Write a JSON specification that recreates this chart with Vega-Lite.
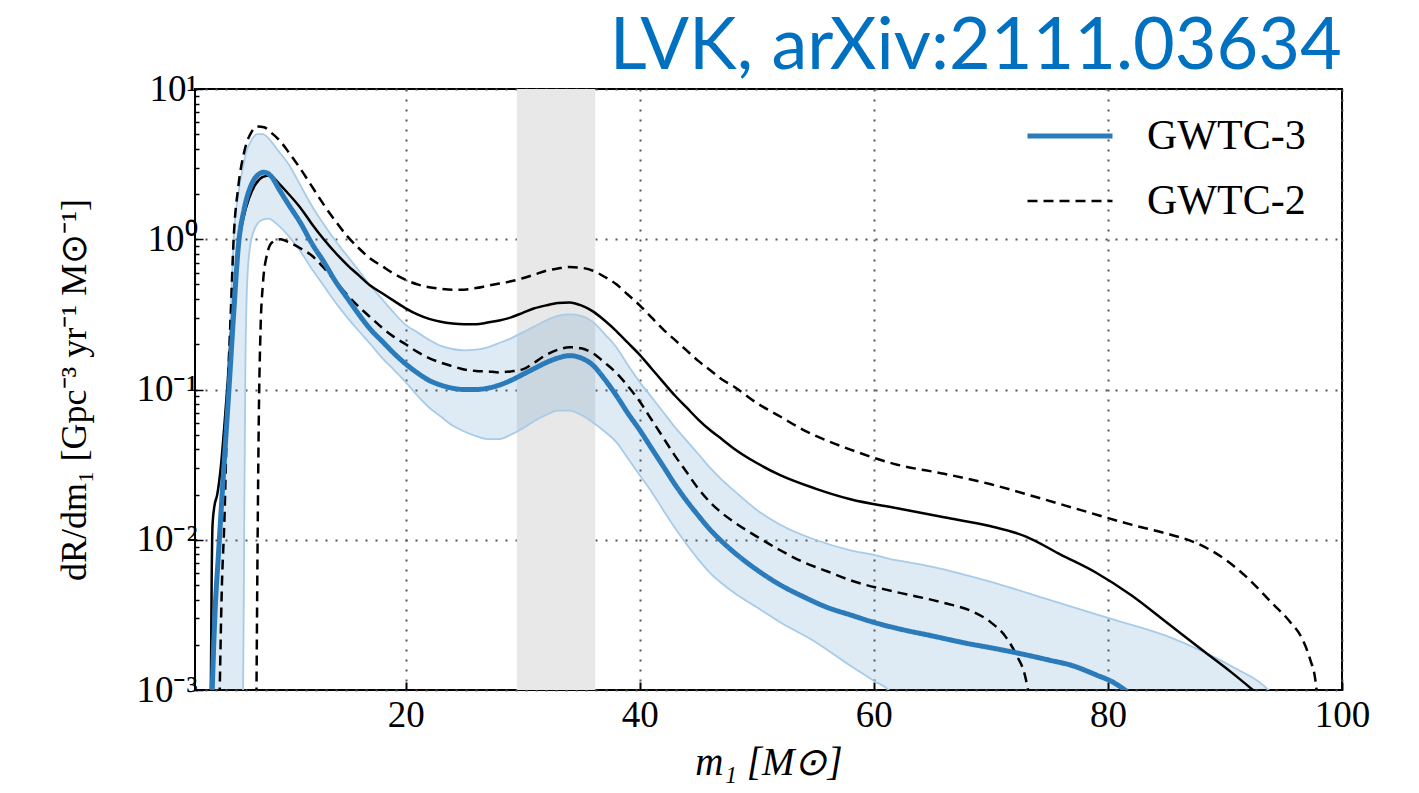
{
  "$schema": "https://vega.github.io/schema/vega-lite/v6.json",
  "width": 1147,
  "height": 601,
  "autosize": {"type": "none"},
  "padding": {"left": 195, "top": 89, "right": 77, "bottom": 103},
  "background": "white",
  "title": {
    "text": "LVK, arXiv:2111.03634",
    "anchor": "end",
    "font": "Lato",
    "fontSize": 72,
    "fontWeight": "normal",
    "color": "#0070C0",
    "baseline": "bottom",
    "offset": -86,
    "dx": -28
  },
  "config": {
    "view": {"stroke": "black", "strokeWidth": 2},
    "legend": {
      "orient": "none",
      "legendX": 830,
      "legendY": 2,
      "padding": 0,
      "labelFont": "Liberation Serif",
      "labelFontSize": 42,
      "labelColor": "black",
      "labelOffset": 32,
      "symbolType": "stroke",
      "symbolSize": 7225,
      "rowPadding": -7,
      "title": null
    }
  },
  "datasets": {
    "span": [{"start": 29.5, "end": 36.2}],
    "band3": [
      {"m": 3.4, "lo": 0.0001, "hi": 0.000794},
      {"m": 3.55, "lo": 0.0001, "hi": 0.001},
      {"m": 3.8, "lo": 0.0001, "hi": 0.00398},
      {"m": 4.0, "lo": 0.0001, "hi": 0.01},
      {"m": 4.3, "lo": 0.0001, "hi": 0.0316},
      {"m": 4.7, "lo": 0.0001, "hi": 0.1},
      {"m": 5.0, "lo": 0.0001, "hi": 0.251},
      {"m": 5.3, "lo": 0.0001, "hi": 1.0},
      {"m": 5.7, "lo": 0.0001, "hi": 2.0},
      {"m": 6.1, "lo": 0.000794, "hi": 3.02},
      {"m": 6.2, "lo": 0.01, "hi": 3.31},
      {"m": 6.3, "lo": 0.126, "hi": 3.63},
      {"m": 6.45, "lo": 0.501, "hi": 3.98},
      {"m": 6.7, "lo": 0.891, "hi": 4.37},
      {"m": 7.0, "lo": 1.12, "hi": 4.79},
      {"m": 7.3, "lo": 1.26, "hi": 5.01},
      {"m": 7.8, "lo": 1.35, "hi": 5.01},
      {"m": 8.3, "lo": 1.37, "hi": 4.68},
      {"m": 9, "lo": 1.26, "hi": 3.98},
      {"m": 10, "lo": 1.05, "hi": 3.16},
      {"m": 11, "lo": 0.832, "hi": 2.29},
      {"m": 12, "lo": 0.631, "hi": 1.66},
      {"m": 13, "lo": 0.49, "hi": 1.26},
      {"m": 14, "lo": 0.38, "hi": 0.977},
      {"m": 15, "lo": 0.302, "hi": 0.776},
      {"m": 16, "lo": 0.245, "hi": 0.617},
      {"m": 17, "lo": 0.2, "hi": 0.49},
      {"m": 18, "lo": 0.162, "hi": 0.398},
      {"m": 19, "lo": 0.135, "hi": 0.324},
      {"m": 20, "lo": 0.112, "hi": 0.269},
      {"m": 21, "lo": 0.0912, "hi": 0.24},
      {"m": 22, "lo": 0.0759, "hi": 0.214},
      {"m": 23, "lo": 0.0661, "hi": 0.195},
      {"m": 24, "lo": 0.0575, "hi": 0.186},
      {"m": 25, "lo": 0.0525, "hi": 0.182},
      {"m": 26, "lo": 0.049, "hi": 0.184},
      {"m": 27, "lo": 0.0468, "hi": 0.191},
      {"m": 28, "lo": 0.0468, "hi": 0.204},
      {"m": 29, "lo": 0.0501, "hi": 0.219},
      {"m": 30, "lo": 0.055, "hi": 0.24},
      {"m": 31, "lo": 0.0617, "hi": 0.263},
      {"m": 32, "lo": 0.0676, "hi": 0.288},
      {"m": 33, "lo": 0.0724, "hi": 0.309},
      {"m": 34, "lo": 0.0724, "hi": 0.316},
      {"m": 35, "lo": 0.0676, "hi": 0.309},
      {"m": 36, "lo": 0.0603, "hi": 0.282},
      {"m": 37, "lo": 0.0525, "hi": 0.234},
      {"m": 38, "lo": 0.0447, "hi": 0.191},
      {"m": 39, "lo": 0.0347, "hi": 0.145},
      {"m": 40, "lo": 0.0269, "hi": 0.112},
      {"m": 41, "lo": 0.0209, "hi": 0.0891},
      {"m": 42, "lo": 0.0158, "hi": 0.0708},
      {"m": 43, "lo": 0.012, "hi": 0.0562},
      {"m": 44, "lo": 0.00933, "hi": 0.0457},
      {"m": 45, "lo": 0.00741, "hi": 0.0372},
      {"m": 46, "lo": 0.00603, "hi": 0.0302},
      {"m": 47, "lo": 0.00513, "hi": 0.0251},
      {"m": 48, "lo": 0.00447, "hi": 0.0214},
      {"m": 50, "lo": 0.00355, "hi": 0.0158},
      {"m": 52, "lo": 0.00282, "hi": 0.0126},
      {"m": 55, "lo": 0.00209, "hi": 0.01},
      {"m": 58, "lo": 0.00145, "hi": 0.00851},
      {"m": 60, "lo": 0.00115, "hi": 0.00794},
      {"m": 61.5, "lo": 0.000955, "hi": 0.00741},
      {"m": 63, "lo": 0.0001, "hi": 0.00708},
      {"m": 65, "lo": 0.0001, "hi": 0.00661},
      {"m": 70, "lo": 0.0001, "hi": 0.00525},
      {"m": 75, "lo": 0.0001, "hi": 0.00398},
      {"m": 80, "lo": 0.0001, "hi": 0.00302},
      {"m": 85, "lo": 0.0001, "hi": 0.00229},
      {"m": 88, "lo": 0.0001, "hi": 0.00182},
      {"m": 91, "lo": 0.0001, "hi": 0.00138},
      {"m": 93, "lo": 0.0001, "hi": 0.00112},
      {"m": 94, "lo": 0.0001, "hi": 0.000955}
    ],
    "median3": [
      {"m": 3.45, "rate": 0.00089},
      {"m": 3.7, "rate": 0.00316},
      {"m": 4.0, "rate": 0.00794},
      {"m": 4.4, "rate": 0.0251},
      {"m": 4.9, "rate": 0.1},
      {"m": 5.3, "rate": 0.316},
      {"m": 5.7, "rate": 0.891},
      {"m": 6.2, "rate": 1.585},
      {"m": 6.8, "rate": 2.29},
      {"m": 7.4, "rate": 2.69},
      {"m": 7.9, "rate": 2.79},
      {"m": 8.5, "rate": 2.63},
      {"m": 9.2, "rate": 2.14},
      {"m": 10, "rate": 1.7},
      {"m": 11, "rate": 1.29},
      {"m": 12, "rate": 0.933},
      {"m": 13, "rate": 0.708},
      {"m": 14, "rate": 0.525},
      {"m": 15, "rate": 0.407},
      {"m": 16, "rate": 0.316},
      {"m": 17, "rate": 0.251},
      {"m": 18, "rate": 0.209},
      {"m": 19, "rate": 0.174},
      {"m": 20, "rate": 0.148},
      {"m": 21, "rate": 0.129},
      {"m": 22, "rate": 0.115},
      {"m": 23, "rate": 0.107},
      {"m": 24, "rate": 0.102},
      {"m": 25, "rate": 0.1},
      {"m": 26, "rate": 0.1},
      {"m": 27, "rate": 0.102},
      {"m": 28, "rate": 0.107},
      {"m": 29, "rate": 0.115},
      {"m": 30, "rate": 0.126},
      {"m": 31, "rate": 0.138},
      {"m": 32, "rate": 0.151},
      {"m": 33, "rate": 0.162},
      {"m": 34, "rate": 0.168},
      {"m": 35, "rate": 0.162},
      {"m": 36, "rate": 0.145},
      {"m": 37, "rate": 0.117},
      {"m": 38, "rate": 0.0912},
      {"m": 39, "rate": 0.0692},
      {"m": 40, "rate": 0.0537},
      {"m": 41, "rate": 0.0407},
      {"m": 42, "rate": 0.0309},
      {"m": 43, "rate": 0.0234},
      {"m": 44, "rate": 0.0182},
      {"m": 45, "rate": 0.0145},
      {"m": 46, "rate": 0.0117},
      {"m": 47, "rate": 0.00977},
      {"m": 48, "rate": 0.00832},
      {"m": 50, "rate": 0.00631},
      {"m": 52, "rate": 0.00501},
      {"m": 54, "rate": 0.00417},
      {"m": 56, "rate": 0.00355},
      {"m": 58, "rate": 0.00316},
      {"m": 60, "rate": 0.00282},
      {"m": 62, "rate": 0.00257},
      {"m": 65, "rate": 0.00229},
      {"m": 68, "rate": 0.00204},
      {"m": 70, "rate": 0.00191},
      {"m": 72, "rate": 0.00178},
      {"m": 75, "rate": 0.00158},
      {"m": 77, "rate": 0.00145},
      {"m": 79, "rate": 0.00126},
      {"m": 80.5, "rate": 0.00112},
      {"m": 82, "rate": 0.00093}
    ],
    "median2": [
      {"m": 3.35, "rate": 0.00089},
      {"m": 3.42, "rate": 0.00501},
      {"m": 3.5, "rate": 0.0126},
      {"m": 3.65, "rate": 0.0166},
      {"m": 3.9, "rate": 0.02},
      {"m": 4.2, "rate": 0.0302},
      {"m": 4.5, "rate": 0.0562},
      {"m": 4.8, "rate": 0.112},
      {"m": 5.1, "rate": 0.251},
      {"m": 5.4, "rate": 0.501},
      {"m": 5.7, "rate": 0.891},
      {"m": 6.1, "rate": 1.35},
      {"m": 6.6, "rate": 1.86},
      {"m": 7.2, "rate": 2.34},
      {"m": 7.8, "rate": 2.6},
      {"m": 8.4, "rate": 2.66},
      {"m": 9.2, "rate": 2.34},
      {"m": 10, "rate": 2.0},
      {"m": 11, "rate": 1.62},
      {"m": 12, "rate": 1.26},
      {"m": 13, "rate": 1.0},
      {"m": 14, "rate": 0.813},
      {"m": 15, "rate": 0.676},
      {"m": 16, "rate": 0.575},
      {"m": 17, "rate": 0.49},
      {"m": 18, "rate": 0.437},
      {"m": 19, "rate": 0.389},
      {"m": 20, "rate": 0.347},
      {"m": 21, "rate": 0.316},
      {"m": 22, "rate": 0.295},
      {"m": 23, "rate": 0.282},
      {"m": 24, "rate": 0.275},
      {"m": 25, "rate": 0.272},
      {"m": 26, "rate": 0.272},
      {"m": 27, "rate": 0.279},
      {"m": 28, "rate": 0.288},
      {"m": 29, "rate": 0.302},
      {"m": 30, "rate": 0.324},
      {"m": 31, "rate": 0.347},
      {"m": 32, "rate": 0.363},
      {"m": 33, "rate": 0.376},
      {"m": 34, "rate": 0.38},
      {"m": 35, "rate": 0.363},
      {"m": 36, "rate": 0.331},
      {"m": 37, "rate": 0.288},
      {"m": 38, "rate": 0.245},
      {"m": 39, "rate": 0.204},
      {"m": 40, "rate": 0.17},
      {"m": 41, "rate": 0.138},
      {"m": 42, "rate": 0.112},
      {"m": 43, "rate": 0.0912},
      {"m": 44, "rate": 0.0759},
      {"m": 45, "rate": 0.0631},
      {"m": 46, "rate": 0.0537},
      {"m": 47, "rate": 0.0468},
      {"m": 48, "rate": 0.0407},
      {"m": 50, "rate": 0.0324},
      {"m": 52, "rate": 0.0269},
      {"m": 55, "rate": 0.0219},
      {"m": 58, "rate": 0.0186},
      {"m": 62, "rate": 0.0162},
      {"m": 66, "rate": 0.0141},
      {"m": 70, "rate": 0.0123},
      {"m": 73, "rate": 0.0105},
      {"m": 76, "rate": 0.00794},
      {"m": 79, "rate": 0.00603},
      {"m": 82, "rate": 0.00427},
      {"m": 85, "rate": 0.00282},
      {"m": 88, "rate": 0.00186},
      {"m": 90.5, "rate": 0.00132},
      {"m": 92.7, "rate": 0.000955}
    ],
    "upper2": [
      {"m": 4.1, "rate": 0.00089},
      {"m": 4.3, "rate": 0.00501},
      {"m": 4.5, "rate": 0.0126},
      {"m": 4.8, "rate": 0.1},
      {"m": 5.05, "rate": 0.316},
      {"m": 5.3, "rate": 1.0},
      {"m": 5.7, "rate": 2.24},
      {"m": 6.2, "rate": 3.8},
      {"m": 6.8, "rate": 5.13},
      {"m": 7.4, "rate": 5.62},
      {"m": 7.9, "rate": 5.56},
      {"m": 8.5, "rate": 5.13},
      {"m": 9.2, "rate": 4.57},
      {"m": 10, "rate": 3.8},
      {"m": 11, "rate": 2.95},
      {"m": 12, "rate": 2.24},
      {"m": 13, "rate": 1.7},
      {"m": 14, "rate": 1.32},
      {"m": 15, "rate": 1.05},
      {"m": 16, "rate": 0.871},
      {"m": 17, "rate": 0.741},
      {"m": 18, "rate": 0.661},
      {"m": 19, "rate": 0.589},
      {"m": 20, "rate": 0.537},
      {"m": 21, "rate": 0.501},
      {"m": 22, "rate": 0.479},
      {"m": 23, "rate": 0.468},
      {"m": 24, "rate": 0.462},
      {"m": 25, "rate": 0.462},
      {"m": 26, "rate": 0.473},
      {"m": 27, "rate": 0.49},
      {"m": 28, "rate": 0.507},
      {"m": 29, "rate": 0.525},
      {"m": 30, "rate": 0.55},
      {"m": 31, "rate": 0.582},
      {"m": 32, "rate": 0.617},
      {"m": 33, "rate": 0.638},
      {"m": 34, "rate": 0.653},
      {"m": 35, "rate": 0.646},
      {"m": 36, "rate": 0.617},
      {"m": 37, "rate": 0.562},
      {"m": 38, "rate": 0.501},
      {"m": 39, "rate": 0.427},
      {"m": 40, "rate": 0.363},
      {"m": 41, "rate": 0.302},
      {"m": 42, "rate": 0.251},
      {"m": 43, "rate": 0.214},
      {"m": 44, "rate": 0.182},
      {"m": 45, "rate": 0.155},
      {"m": 46, "rate": 0.135},
      {"m": 47, "rate": 0.117},
      {"m": 48, "rate": 0.105},
      {"m": 50, "rate": 0.0813},
      {"m": 52, "rate": 0.0661},
      {"m": 54, "rate": 0.0537},
      {"m": 56, "rate": 0.0457},
      {"m": 58, "rate": 0.0398},
      {"m": 62, "rate": 0.0316},
      {"m": 66, "rate": 0.0275},
      {"m": 70, "rate": 0.0234},
      {"m": 74, "rate": 0.0191},
      {"m": 78, "rate": 0.0155},
      {"m": 82, "rate": 0.0126},
      {"m": 85, "rate": 0.011},
      {"m": 87.5, "rate": 0.00955},
      {"m": 90, "rate": 0.00741},
      {"m": 92, "rate": 0.0055},
      {"m": 94, "rate": 0.0038},
      {"m": 95.5, "rate": 0.00288},
      {"m": 96.6, "rate": 0.00219},
      {"m": 97.3, "rate": 0.00158},
      {"m": 97.7, "rate": 0.0012},
      {"m": 97.9, "rate": 0.00089}
    ],
    "lower2": [
      {"m": 7.25, "rate": 0.00089},
      {"m": 7.35, "rate": 0.01},
      {"m": 7.45, "rate": 0.0631},
      {"m": 7.6, "rate": 0.251},
      {"m": 7.8, "rate": 0.501},
      {"m": 8.1, "rate": 0.759},
      {"m": 8.6, "rate": 0.955},
      {"m": 9.3, "rate": 1.0},
      {"m": 10, "rate": 0.955},
      {"m": 11, "rate": 0.871},
      {"m": 12, "rate": 0.776},
      {"m": 13, "rate": 0.646},
      {"m": 14, "rate": 0.525},
      {"m": 15, "rate": 0.427},
      {"m": 16, "rate": 0.355},
      {"m": 17, "rate": 0.302},
      {"m": 18, "rate": 0.257},
      {"m": 19, "rate": 0.224},
      {"m": 20, "rate": 0.2},
      {"m": 21, "rate": 0.178},
      {"m": 22, "rate": 0.162},
      {"m": 23, "rate": 0.151},
      {"m": 24, "rate": 0.143},
      {"m": 25, "rate": 0.136},
      {"m": 26, "rate": 0.133},
      {"m": 27, "rate": 0.132},
      {"m": 28, "rate": 0.13},
      {"m": 29, "rate": 0.132},
      {"m": 30, "rate": 0.136},
      {"m": 31, "rate": 0.151},
      {"m": 32, "rate": 0.17},
      {"m": 33, "rate": 0.184},
      {"m": 34, "rate": 0.191},
      {"m": 35, "rate": 0.188},
      {"m": 36, "rate": 0.174},
      {"m": 37, "rate": 0.151},
      {"m": 38, "rate": 0.129},
      {"m": 39, "rate": 0.105},
      {"m": 40, "rate": 0.0832},
      {"m": 41, "rate": 0.0631},
      {"m": 42, "rate": 0.0479},
      {"m": 43, "rate": 0.0363},
      {"m": 44, "rate": 0.0282},
      {"m": 45, "rate": 0.0219},
      {"m": 46, "rate": 0.0178},
      {"m": 47, "rate": 0.0151},
      {"m": 48, "rate": 0.0132},
      {"m": 50, "rate": 0.0105},
      {"m": 52, "rate": 0.00851},
      {"m": 54, "rate": 0.00708},
      {"m": 56, "rate": 0.00617},
      {"m": 58, "rate": 0.00537},
      {"m": 62, "rate": 0.00447},
      {"m": 66, "rate": 0.0038},
      {"m": 68.5, "rate": 0.00331},
      {"m": 70, "rate": 0.00282},
      {"m": 71.3, "rate": 0.00224},
      {"m": 72.2, "rate": 0.0017},
      {"m": 72.9, "rate": 0.00126},
      {"m": 73.3, "rate": 0.00089}
    ]
  },
  "layer": [
    {
      "data": {"name": "span"},
      "mark": {"type": "rect", "color": "#e8e8e8"},
      "encoding": {
        "x": {"field": "start", "type": "quantitative", "scale": {"domain": [2, 100], "nice": false, "zero": false},
          "axis": {
            "values": [20, 40, 60, 80, 100],
            "title": "m₁ [M⊙]",
            "titleFont": "Liberation Serif",
            "titleFontSize": 39,
            "titleFontWeight": "normal",
            "titleFontStyle": "italic",
            "titleColor": "black",
            "titlePadding": 10,
            "labelFont": "Liberation Serif",
            "labelFontSize": 37,
            "labelColor": "black",
            "labelPadding": 15,
            "labelFlush": false,
            "labelOverlap": false,
            "tickSize": -8,
            "tickColor": "black",
            "tickWidth": 2,
            "domain": false,
            "grid": true,
            "gridColor": "#555555",
            "gridDash": [2, 8],
            "gridWidth": 2
          }
        },
        "x2": {"field": "end"}
      }
    },
    {
      "data": {"name": "band3"},
      "mark": {"type": "area", "color": "#1f77b4", "opacity": 0.15, "clip": true, "interpolate": "monotone"},
      "encoding": {
        "x": {"field": "m", "type": "quantitative", "scale": {"domain": [2, 100], "nice": false, "zero": false}, "title": "m₁ [M⊙]"},
        "y": {
          "field": "lo", "type": "quantitative",
          "scale": {"type": "log", "domain": [0.001, 10], "nice": false},
          "axis": {
            "values": [0.001, 0.002, 0.003, 0.004, 0.005, 0.006, 0.007, 0.008, 0.009, 0.01, 0.02, 0.03, 0.04, 0.05, 0.06, 0.07, 0.08, 0.09, 0.1, 0.2, 0.3, 0.4, 0.5, 0.6, 0.7, 0.8, 0.9, 1, 2, 3, 4, 5, 6, 7, 8, 9, 10],
            "labelExpr": "datum.value == 10 ? '10¹' : datum.value == 1 ? '10⁰' : datum.value == 0.1 ? '10⁻¹' : datum.value == 0.01 ? '10⁻²' : datum.value == 0.001 ? '10⁻³' : ''",
            "title": "dR/dm₁ [Gpc⁻³ yr⁻¹ M⊙⁻¹]",
            "titleFont": "Liberation Serif",
            "titleFontSize": 36,
            "titleFontWeight": "normal",
            "titleColor": "black",
            "titlePadding": 42,
            "labelFont": "Liberation Serif",
            "labelFontSize": 37,
            "labelColor": "black",
            "labelPadding": 6,
            "labelFlush": false,
            "labelOverlap": false,
            "tickSize": -8,
            "tickDash": {"condition": {"test": "datum.value == 10 || datum.value == 1 || datum.value == 0.1 || datum.value == 0.01 || datum.value == 0.001", "value": [1, 0]}, "value": [4, 30]},
            "tickColor": "black",
            "tickWidth": 1.5,
            "domain": false,
            "grid": true,
            "gridColor": "#555555",
            "gridDash": [2, 8],
            "gridWidth": 2,
            "gridOpacity": {"condition": {"test": "datum.value == 10 || datum.value == 1 || datum.value == 0.1 || datum.value == 0.01 || datum.value == 0.001", "value": 1}, "value": 0}
          }
        },
        "y2": {"field": "hi"}
      }
    },
    {
      "data": {"name": "band3"},
      "mark": {"type": "line", "color": "#a8cbe8", "strokeWidth": 1.8, "clip": true, "interpolate": "monotone"},
      "encoding": {
        "x": {"field": "m", "type": "quantitative", "title": "m₁ [M⊙]"},
        "y": {"field": "lo", "type": "quantitative", "title": "dR/dm₁ [Gpc⁻³ yr⁻¹ M⊙⁻¹]"}
      }
    },
    {
      "data": {"name": "band3"},
      "mark": {"type": "line", "color": "#a8cbe8", "strokeWidth": 1.8, "clip": true, "interpolate": "monotone"},
      "encoding": {
        "x": {"field": "m", "type": "quantitative", "title": "m₁ [M⊙]"},
        "y": {"field": "hi", "type": "quantitative", "title": "dR/dm₁ [Gpc⁻³ yr⁻¹ M⊙⁻¹]"}
      }
    },
    {
      "data": {"name": "median2"},
      "mark": {"type": "line", "color": "black", "strokeWidth": 2.5, "clip": true, "interpolate": "monotone"},
      "encoding": {
        "x": {"field": "m", "type": "quantitative", "title": "m₁ [M⊙]"},
        "y": {"field": "rate", "type": "quantitative", "title": "dR/dm₁ [Gpc⁻³ yr⁻¹ M⊙⁻¹]"}
      }
    },
    {
      "data": {"name": "upper2"},
      "mark": {"type": "line", "clip": true, "interpolate": "monotone"},
      "encoding": {
        "x": {"field": "m", "type": "quantitative", "title": "m₁ [M⊙]"},
        "y": {"field": "rate", "type": "quantitative", "title": "dR/dm₁ [Gpc⁻³ yr⁻¹ M⊙⁻¹]"},
        "color": {"datum": "GWTC-2", "type": "nominal", "scale": {"domain": ["GWTC-3", "GWTC-2"], "range": ["#2b7bba", "black"]}},
        "strokeDash": {"datum": "GWTC-2", "type": "nominal", "scale": {"domain": ["GWTC-3", "GWTC-2"], "range": [[1, 0], [10, 6]]}},
        "strokeWidth": {"datum": "GWTC-2", "type": "nominal", "scale": {"domain": ["GWTC-3", "GWTC-2"], "range": [5, 2.5]}}
      }
    },
    {
      "data": {"name": "lower2"},
      "mark": {"type": "line", "clip": true, "interpolate": "monotone"},
      "encoding": {
        "x": {"field": "m", "type": "quantitative", "title": "m₁ [M⊙]"},
        "y": {"field": "rate", "type": "quantitative", "title": "dR/dm₁ [Gpc⁻³ yr⁻¹ M⊙⁻¹]"},
        "color": {"datum": "GWTC-2", "type": "nominal", "scale": {"domain": ["GWTC-3", "GWTC-2"], "range": ["#2b7bba", "black"]}},
        "strokeDash": {"datum": "GWTC-2", "type": "nominal", "scale": {"domain": ["GWTC-3", "GWTC-2"], "range": [[1, 0], [10, 6]]}},
        "strokeWidth": {"datum": "GWTC-2", "type": "nominal", "scale": {"domain": ["GWTC-3", "GWTC-2"], "range": [5, 2.5]}}
      }
    },
    {
      "data": {"name": "median3"},
      "mark": {"type": "line", "clip": true, "interpolate": "monotone"},
      "encoding": {
        "x": {"field": "m", "type": "quantitative", "title": "m₁ [M⊙]"},
        "y": {"field": "rate", "type": "quantitative", "title": "dR/dm₁ [Gpc⁻³ yr⁻¹ M⊙⁻¹]"},
        "color": {"datum": "GWTC-3", "type": "nominal", "scale": {"domain": ["GWTC-3", "GWTC-2"], "range": ["#2b7bba", "black"]}},
        "strokeDash": {"datum": "GWTC-3", "type": "nominal", "scale": {"domain": ["GWTC-3", "GWTC-2"], "range": [[1, 0], [10, 6]]}},
        "strokeWidth": {"datum": "GWTC-3", "type": "nominal", "scale": {"domain": ["GWTC-3", "GWTC-2"], "range": [5, 2.5]}}
      }
    }
  ]
}
